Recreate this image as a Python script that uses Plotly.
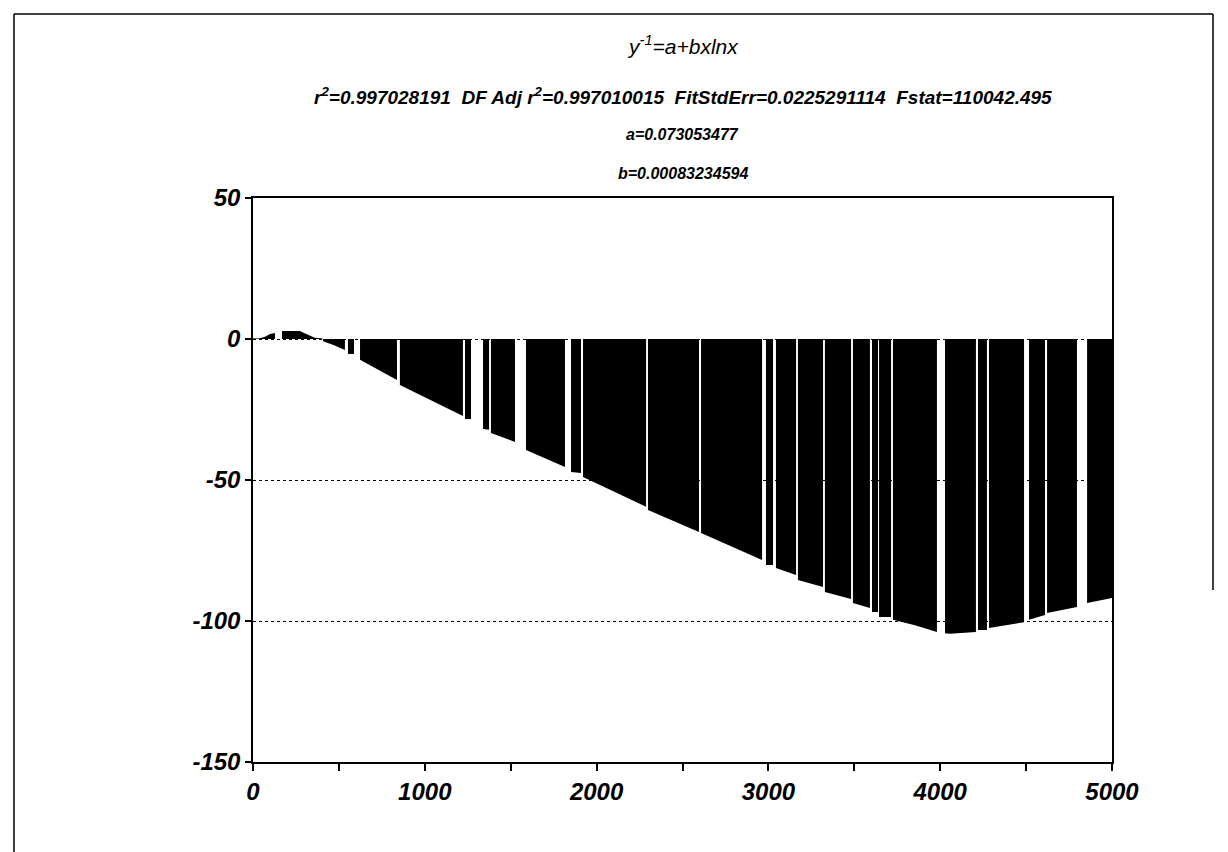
import plotly.graph_objects as go

# Residual data (x, residual), None separates runs of points
resid_x = [0, 40, 70, 99, 128, None,
           169, 274, 300, 340, 360, 405, None,
           408, 472, 535, None,
           553, 588, None,
           623, 728, 838, None,
           855, 1030, 1222, None,
           1234, 1269, None,
           1339, 1374, None,
           1385, 1525, None,
           1589, 1816, None,
           1851, 1909, None,
           1921, 2288, None,
           2299, 2596, None,
           2608, 2963, None,
           2986, 3027, None,
           3044, 3161, None,
           3172, 3318, None,
           3329, 3481, None,
           3492, 3591, None,
           3603, 3638, None,
           3644, 3714, None,
           3725, 3853, 3981, None,
           4028, 4057, 4208, None,
           4220, 4272, None,
           4284, 4488, None,
           4517, 4610, None,
           4622, 4796, None,
           4855, 5000]
resid_y = [0.2, 0.3, 0.8, 1.8, 2.1, None,
           2.8, 2.8, 2.0, 1.0, 0.4, 0.2, None,
           -0.8, -2.2, -3.9, None,
           -5.3, -5.3, None,
           -7.4, -11.0, -14.5, None,
           -16.3, -21.5, -27.3, None,
           -28.4, -28.4, None,
           -31.9, -32.2, None,
           -33.3, -36.5, None,
           -39.4, -45.4, None,
           -47.2, -47.5, None,
           -48.9, -59.5, None,
           -60.6, -68.4, None,
           -68.8, -78.4, None,
           -80.1, -80.1, None,
           -81.2, -83.7, None,
           -85.5, -87.9, None,
           -89.7, -92.2, None,
           -93.6, -95.4, None,
           -96.8, -96.8, None,
           -98.6, -98.6, None,
           -99.6, -101.5, -103.9, None,
           -104.3, -104.5, -103.9, None,
           -103.2, -103.2, None,
           -102.5, -100.4, None,
           -99.6, -97.9, None,
           -97.2, -95.0, None,
           -93.6, -91.8]

x_ticks = [0, 1000, 2000, 3000, 4000, 5000]
y_ticks = [50, 0, -50, -100, -150]

title_text = "y<sup>-1</sup>=a+bxlnx"
stats_text = "r<sup>2</sup>=0.997028191  DF Adj r<sup>2</sup>=0.997010015  FitStdErr=0.0225291114  Fstat=110042.495"
a_text = "a=0.073053477"
b_text = "b=0.00083234594"

fig = go.Figure()

# split the residual series into its runs; each run is filled down to zero on its own
runs = []
cur_x, cur_y = [], []
for xv, yv in zip(resid_x, resid_y):
    if xv is None:
        if cur_x:
            runs.append((cur_x, cur_y))
        cur_x, cur_y = [], []
    else:
        cur_x.append(xv)
        cur_y.append(yv)
if cur_x:
    runs.append((cur_x, cur_y))

for rx, ry in runs:
    fig.add_trace(go.Scatter(
        x=rx, y=ry, mode="lines", fill="tozeroy",
        fillcolor="black", line=dict(width=0, color="black"),
        hoverinfo="skip", showlegend=False))

tickfont = dict(family="Liberation Sans, Arial, sans-serif", size=24,
                color="black", weight="bold", style="italic")

fig.update_xaxes(range=[0, 5000], tickvals=x_ticks, ticktext=[str(v) for v in x_ticks],
                 ticks="outside", ticklen=7, tickwidth=1.5, tickcolor="black",
                 minor=dict(dtick=500, ticks="outside", ticklen=7, tickwidth=1.5, tickcolor="black"),
                 showline=True, mirror=True, linecolor="black", linewidth=1.5,
                 showgrid=False, zeroline=False, tickfont=tickfont)
fig.update_yaxes(range=[-150, 50], tickvals=y_ticks, ticktext=[str(v) for v in y_ticks],
                 ticks="outside", ticklen=6, tickwidth=1.5, tickcolor="black",
                 showline=True, mirror=True, linecolor="black", linewidth=1.5,
                 showgrid=True, gridcolor="black", gridwidth=1, griddash="dot",
                 zeroline=False, tickfont=tickfont)

annfont = dict(family="Liberation Sans Narrow, Liberation Sans, Arial, sans-serif",
               color="black")
anns = [
    (title_text, 0.17, 21, "normal"),
    (stats_text, 0.445, 19, "bold"),
    (a_text, 0.655, 16, "bold"),
    (b_text, 0.865, 16, "bold"),
]
for txt, frac, size, weight in anns:
    py = 14 + frac * (198 - 14)
    fig.add_annotation(text=txt, xref="paper", yref="paper",
                       x=0.5, y=(762 - py) / 564, showarrow=False,
                       xanchor="center", yanchor="middle",
                       font=dict(size=size, weight=weight, style="italic", **annfont))

# outer frame lines
def px2x(px):
    return (px - 253) / 859
def py2y(py):
    return (762 - py) / 564
fig.add_shape(type="line", xref="paper", yref="paper", x0=px2x(14), x1=px2x(1213),
              y0=py2y(14), y1=py2y(14), line=dict(color="black", width=1.5))
fig.add_shape(type="line", xref="paper", yref="paper", x0=px2x(14), x1=px2x(14),
              y0=py2y(14), y1=py2y(852), line=dict(color="black", width=1.5))
fig.add_shape(type="line", xref="paper", yref="paper", x0=px2x(1213), x1=px2x(1213),
              y0=py2y(14), y1=py2y(590), line=dict(color="black", width=1.5))

fig.update_layout(width=1228, height=852, margin=dict(l=253, r=116, t=198, b=90),
                  paper_bgcolor="white", plot_bgcolor="white", showlegend=False)

fig.write_html("out.html")
